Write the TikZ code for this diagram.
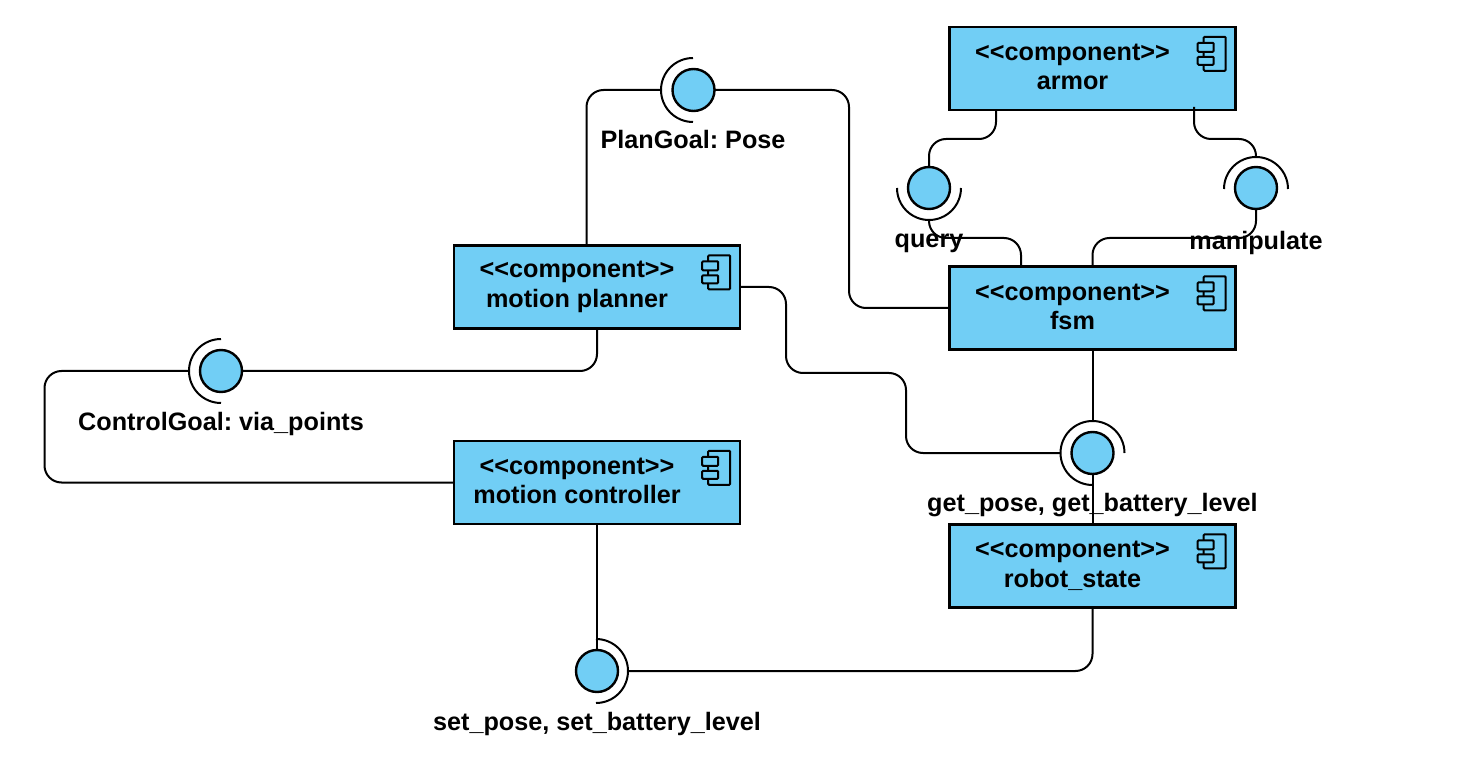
\documentclass[tikz,border=0pt]{standalone}
\usepackage{fontspec}
\setmainfont{Liberation Sans}
\frenchspacing
\definecolor{compblue}{HTML}{71CEF5}
\tikzset{
  compbox/.style={draw,line width=2.4pt,fill=compblue,minimum width=286pt,minimum height=83pt,inner sep=0pt},
  complabel/.style={align=center,font=\fontsize{25.2}{29.5}\selectfont\bfseries,inner sep=0pt},
  iface/.style={circle,draw,line width=2.4pt,fill=compblue,minimum size=42pt,inner sep=0pt},
  ifacelabel/.style={font=\fontsize{25.2}{29.5}\selectfont\bfseries,inner sep=0pt},
  wire/.style={line width=2pt,rounded corners=17pt},
  cup/.style={line width=2pt}
}
\newcommand{\compicon}[1]{
  \draw[line width=2pt,rounded corners=1pt] ([shift={(-33pt,-11pt)}]#1.north east) rectangle ([shift={(-11pt,-45pt)}]#1.north east);
  \draw[line width=2pt,rounded corners=1pt,fill=compblue] ([shift={(-39pt,-17pt)}]#1.north east) rectangle ([shift={(-23pt,-26pt)}]#1.north east);
  \draw[line width=2pt,rounded corners=1pt,fill=compblue] ([shift={(-39pt,-31pt)}]#1.north east) rectangle ([shift={(-23pt,-39pt)}]#1.north east);
}
\begin{document}
\begin{tikzpicture}[x=1pt,y=-1pt]
\useasboundingbox (0,0) rectangle (1465,759);

% components
\node[compbox] (armor) at (1092.5,68.5) {};
\node[compbox] (fsm) at (1092.5,308) {};
\node[compbox] (planner) at (597,287) {};
\node[compbox] (controller) at (597,482.5) {};
\node[compbox] (robotstate) at (1092.5,566) {};

\node[complabel] (armortext) at (1072.5,67) {<{}<component>{}>\\armor};
\node[complabel] (fsmtext) at (1072.5,307) {<{}<component>{}>\\fsm};
\node[complabel] (plannertext) at (577,287) {<{}<component>{}>\\motion planner};
\node[complabel] (controllertext) at (577,481) {<{}<component>{}>\\motion controller};
\node[complabel] (robotstatetext) at (1072.5,566) {<{}<component>{}>\\robot\_state};

\foreach \comp in {armor,fsm,planner,controller,robotstate}{
  \compicon{\comp}
}

% interfaces
\coordinate (plansock) at (661,90);
\coordinate (querysock) at (929,220);
\coordinate (manipsock) at (1256,157);
\coordinate (controlsock) at (189,371);
\coordinate (getsock) at (1060.5,453);
\coordinate (getsocktop) at (1092.5,421);
\coordinate (setsock) at (628,671);

% connectors
\draw[wire] ([xshift=-10.5pt]planner.north) -- (586.5,90) -- (plansock);
\draw[wire] (693,90) -- (849,90) -- (849,308) -- (fsm.west);
\draw[wire] ([xshift=-96.5pt]armor.south) -- (996,139) -- (929,139) -- (929,188);
\draw[wire] (1194,107) -- (1194,139) -- (1256,139) -- (manipsock);
\draw[wire] (querysock) -- (929,238) -- (1021,238) -- ([xshift=-71.5pt]fsm.north);
\draw[wire] (1256,188) -- (1256,238) -- (1092.5,238) -- (fsm.north);
\draw[wire] (planner.east) -- (786,287) -- (786,373) -- (906,373) -- (906,453) -- (getsock);
\draw[wire] (planner.south) -- (597,371) -- (221,371);
\draw[wire] (controlsock) -- (44.5,371) -- (44.5,482.5) -- (controller.west);
\draw[wire] (fsm.south) -- (getsocktop);
\draw[wire] (1092.5,453) -- (robotstate.north);
\draw[wire] (controller.south) -- (597,671);
\draw[wire] (robotstate.south) -- (1092.5,671) -- (setsock);

% circles
\node[iface] (plan) at (693.5,90) {};
\node[iface] (query) at (929,188) {};
\node[iface] (manip) at (1256,188) {};
\node[iface] (control) at (221,371) {};
\node[iface] (getstate) at (1092.5,453) {};
\node[iface] (setstate) at (597,671) {};

% sockets
\draw[cup] (plansock) ++(32pt,32pt) arc[start angle=90,end angle=270,radius=32pt];
\draw[cup] (querysock) ++(-32pt,32pt) arc[start angle=180,end angle=360,radius=32pt];
\draw[cup] (manipsock) ++(-32pt,-32pt) arc[start angle=180,end angle=0,radius=32pt];
\draw[cup] (controlsock) ++(32pt,32pt) arc[start angle=90,end angle=270,radius=32pt];
\draw[cup] (getsock) ++(32pt,-32pt) arc[start angle=270,end angle=0,radius=32pt];
\draw[cup] (setsock) ++(-32pt,32pt) arc[start angle=90,end angle=-90,radius=32pt];

% labels
\node[ifacelabel] (plantext) at (693,139.5) {PlanGoal: Pose};
\node[ifacelabel] (querytext) at (929,243) {query};
\node[ifacelabel] (maniptext) at (1256,243) {manipulate};
\node[ifacelabel] (controltext) at (221,424) {ControlGoal: via\_points};
\node[ifacelabel] (gettext) at (1092.5,505) {get\_pose, get\_battery\_level};
\node[ifacelabel] (settext) at (597,724) {set\_pose, set\_battery\_level};
\end{tikzpicture}
\end{document}
